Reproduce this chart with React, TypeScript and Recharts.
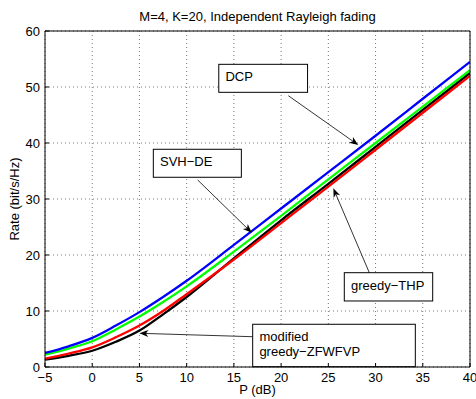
import { LineChart, Line, XAxis, YAxis, CartesianGrid, ReferenceLine, ReferenceArea } from 'recharts';

// P (dB) sample points and rates (bit/s/Hz)
const power = [-5, -2.5, 0, 2.5, 5, 7.5, 10, 15, 20, 25, 30, 35, 40];
const dcp = [2.5, 3.7, 5.2, 7.4, 9.8, 12.5, 15.4, 21.8, 28.3, 34.8, 41.3, 47.9, 54.5];
const svhDe = [2.2, 3.3, 4.6, 6.7, 9.0, 11.6, 14.4, 20.6, 27.0, 33.5, 40.0, 46.5, 53.0];
const greedyThp = [1.5, 2.4, 3.5, 5.3, 7.4, 10.0, 13.0, 19.2, 25.7, 32.2, 38.8, 45.4, 52.0];
const modifiedZf = [1.3, 2.0, 2.9, 4.5, 6.5, 9.4, 12.5, 19.4, 26.2, 32.7, 39.3, 45.9, 52.5];

const xTicks = [-5, 0, 5, 10, 15, 20, 25, 30, 35, 40];
const yTicks = [0, 10, 20, 30, 40, 50, 60];

const title = 'M=4, K=20, Independent Rayleigh fading';

// annotation boxes (data coords) and their arrows: tail -> head
const notes = [
    { lines: ['DCP'], x1: 13.4, x2: 22.8, y1: 49.05, y2: 54.05, from: [20.76, 48.45], to: [28.17, 39.64] },
    { lines: ['SVH−DE'], x1: 6.47, x2: 15.79, y1: 33.88, y2: 38.88, from: [11.17, 33.39], to: [16.89, 23.98] },
    { lines: ['greedy−THP'], x1: 26.69, x2: 36.05, y1: 11.79, y2: 16.84, from: [29.34, 16.84], to: [25.53, 31.91] },
    { lines: ['modified', 'greedy−ZFWFVP'], x1: 16.99, x2: 34.21, y1: 0.05, y2: 7.63, from: [16.99, 5.41], to: [4.99, 6.02] },
];

const chartData = power.map((p, i) => ({
    p,
    dcp: dcp[i],
    svh: svhDe[i],
    thp: greedyThp[i],
    zf: modifiedZf[i],
}));

const FONT = '"Liberation Sans", Arial, Helvetica, sans-serif';
const tickStyle = { fill: '#000', fontSize: 13, fontFamily: FONT };

const fmt = (v: number) => (v < 0 ? '−' + Math.abs(v) : String(v));

function Arrow(props: any) {
    const { x1, y1, x2, y2 } = props;
    const a = Math.atan2(y2 - y1, x2 - x1);
    const ux = Math.cos(a);
    const uy = Math.sin(a);
    const len = 9;
    const hw = 3.5;
    const notch = 6.5;
    const bx = x2 - ux * len;
    const by = y2 - uy * len;
    const nx = x2 - ux * notch;
    const ny = y2 - uy * notch;
    const pts = [
        [x2, y2],
        [bx - uy * hw, by + ux * hw],
        [nx, ny],
        [bx + uy * hw, by - ux * hw],
    ].map((q) => q.join(',')).join(' ');
    return (
        <g>
            <line x1={x1} y1={y1} x2={nx} y2={ny} stroke="#000" strokeWidth={0.8} />
            <polygon points={pts} fill="#000" />
        </g>
    );
}

const makeBox = (lines: string[]) => (p: any) => (
    <g>
        <rect x={p.x} y={p.y} width={p.width} height={p.height} fill="#fff" stroke="#000" strokeWidth={1} />
        <text x={p.x + 6.7} y={p.y + 17} fontSize={13} fontFamily={FONT} fill="#000">
            {lines.map((l, i) => (
                <tspan key={i} x={p.x + 6.7} dy={i === 0 ? 0 : 15}>{l}</tspan>
            ))}
        </text>
    </g>
);

export default function App() {
    return (
        <div style={{ position: 'absolute', left: 0, top: 0, background: '#fff' }}>
            <LineChart width={476} height={399} data={chartData} margin={{ top: 30, right: 5, bottom: 0, left: 0 }}>
                <CartesianGrid xAxisId="b" yAxisId="l" strokeDasharray="1 3" stroke="#777" />
                <XAxis
                    xAxisId="b"
                    dataKey="p"
                    type="number"
                    domain={[-5, 40]}
                    allowDataOverflow
                    ticks={xTicks}
                    interval={0}
                    height={32}
                    tickSize={-4}
                    tickMargin={9.5}
                    tickFormatter={fmt}
                    axisLine={{ stroke: '#000' }}
                    tickLine={{ stroke: '#000' }}
                    tick={tickStyle}
                    label={{
                        content: (lp: any) => (
                            <text x={lp.viewBox.x + lp.viewBox.width / 2} y={lp.viewBox.y + 27} textAnchor="middle" fontSize={13} fontFamily={FONT} fill="#000">
                                P (dB)
                            </text>
                        ),
                    }}
                />
                <XAxis
                    xAxisId="t"
                    dataKey="p"
                    orientation="top"
                    type="number"
                    domain={[-5, 40]}
                    allowDataOverflow
                    ticks={xTicks}
                    interval={0}
                    height={1}
                    tickSize={-4}
                    tick={false}
                    axisLine={{ stroke: '#000' }}
                    tickLine={{ stroke: '#000' }}
                    label={{
                        content: (lp: any) => (
                            <text x={lp.viewBox.x + lp.viewBox.width / 2} y={lp.viewBox.y + lp.viewBox.height - 10} textAnchor="middle" fontSize={13} fontFamily={FONT} fill="#000">
                                {title}
                            </text>
                        ),
                    }}
                />
                <YAxis
                    yAxisId="l"
                    type="number"
                    domain={[0, 60]}
                    allowDataOverflow
                    ticks={yTicks}
                    interval={0}
                    width={45}
                    tickSize={-4}
                    tickMargin={9}
                    axisLine={{ stroke: '#000' }}
                    tickLine={{ stroke: '#000' }}
                    tick={tickStyle}
                    label={{
                        content: (lp: any) => {
                            const x = lp.viewBox.x + 18.5;
                            const y = lp.viewBox.y + lp.viewBox.height / 2;
                            return (
                                <text x={x} y={y} transform={`rotate(-90, ${x}, ${y})`} textAnchor="middle" fontSize={13} fontFamily={FONT} fill="#000">
                                    Rate (bit/s/Hz)
                                </text>
                            );
                        },
                    }}
                />
                <YAxis
                    yAxisId="r"
                    orientation="right"
                    type="number"
                    domain={[0, 60]}
                    allowDataOverflow
                    ticks={yTicks}
                    interval={0}
                    width={1}
                    tickSize={-4}
                    tick={false}
                    axisLine={{ stroke: '#000' }}
                    tickLine={{ stroke: '#000' }}
                />
                <Line xAxisId="b" yAxisId="l" type="monotone" dataKey="zf" stroke="#000000" strokeWidth={2.3} dot={false} isAnimationActive={false} />
                <Line xAxisId="b" yAxisId="l" type="monotone" dataKey="thp" stroke="#ff0000" strokeWidth={2.3} dot={false} isAnimationActive={false} />
                <Line xAxisId="b" yAxisId="l" type="monotone" dataKey="svh" stroke="#00ff00" strokeWidth={2.3} dot={false} isAnimationActive={false} />
                <Line xAxisId="b" yAxisId="l" type="monotone" dataKey="dcp" stroke="#0000ff" strokeWidth={2.3} dot={false} isAnimationActive={false} />
                <Line xAxisId="t" yAxisId="r" type="monotone" dataKey="dcp" stroke="none" strokeWidth={0} dot={false} legendType="none" isAnimationActive={false} />
                {notes.map((n, i) => (
                    <ReferenceArea
                        key={'box' + i}
                        xAxisId="b"
                        yAxisId="l"
                        x1={n.x1}
                        x2={n.x2}
                        y1={n.y1}
                        y2={n.y2}
                        shape={makeBox(n.lines)}
                    />
                ))}
                {notes.map((n, i) => (
                    <ReferenceLine
                        key={'arrow' + i}
                        xAxisId="b"
                        yAxisId="l"
                        segment={[
                            { x: n.from[0], y: n.from[1] },
                            { x: n.to[0], y: n.to[1] },
                        ]}
                        shape={(p: any) => <Arrow {...p} />}
                    />
                ))}
            </LineChart>
        </div>
    );
}
